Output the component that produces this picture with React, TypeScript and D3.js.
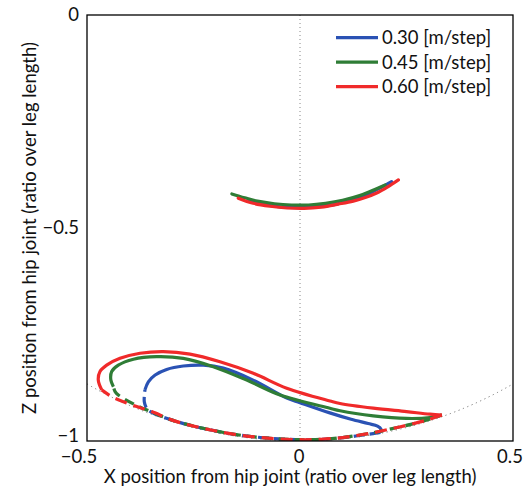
import React from "react";
import * as d3 from "d3";

const seriesNames = ["0.30 [m/step]", "0.45 [m/step]", "0.60 [m/step]"];
const seriesColors = ["#2a52b4", "#2f7d36", "#f02a2a"];

const xTicks = [-0.5, 0, 0.5];
const yTicks = [0, -0.5, -1];
const xTickLabels = ["\u22120.5", "0", "0.5"];
const yTickLabels = ["0", "\u22120.5", "\u22121"];

// swing phase (solid), [X, Z]
const swing030: [number, number][] = [
  [-0.364, -0.88], [-0.356, -0.861], [-0.34, -0.845], [-0.313, -0.832], [-0.274, -0.824],
  [-0.227, -0.822], [-0.18, -0.829], [-0.11, -0.857], [-0.031, -0.899], [0.0, -0.91],
  [0.07, -0.934], [0.12, -0.949], [0.16, -0.959], [0.182, -0.965], [0.19, -0.972], [0.189, -0.98],
];
const swing045: [number, number][] = [
  [-0.438, -0.8725], [-0.444, -0.857], [-0.442, -0.837], [-0.4265, -0.822], [-0.391, -0.808],
  [-0.3365, -0.802], [-0.274, -0.806], [-0.2035, -0.8255], [-0.125, -0.857], [-0.047, -0.892],
  [0.07, -0.923], [0.094, -0.929], [0.172, -0.941], [0.25, -0.947], [0.305, -0.945], [0.333, -0.939],
];
const swing060: [number, number][] = [
  [-0.4655, -0.88], [-0.4735, -0.857], [-0.4695, -0.837], [-0.4538, -0.822], [-0.4225, -0.806],
  [-0.3756, -0.794], [-0.3209, -0.79], [-0.2582, -0.796], [-0.1878, -0.814], [-0.1096, -0.841],
  [-0.0312, -0.876], [0.0704, -0.906], [0.094, -0.912], [0.172, -0.923], [0.25, -0.931],
  [0.305, -0.937], [0.333, -0.939],
];

// stance phase (dashed), [X, Z]
const stance030: [number, number][] = [
  [0.189, -0.98], [0.14, -0.987], [0.1, -0.992], [0.05, -0.996], [0.0, -0.997], [-0.05, -0.995],
  [-0.1, -0.991], [-0.15, -0.985], [-0.2, -0.976], [-0.25, -0.965], [-0.3, -0.951],
  [-0.348, -0.933], [-0.36, -0.923], [-0.3655, -0.908], [-0.364, -0.88],
];
const stance045: [number, number][] = [
  [0.333, -0.939], [0.3, -0.95], [0.26, -0.961], [0.22, -0.97], [0.18, -0.979], [0.14, -0.986],
  [0.1, -0.992], [0.05, -0.996], [0.0, -0.997], [-0.05, -0.995], [-0.1, -0.991], [-0.15, -0.985],
  [-0.2, -0.976], [-0.25, -0.965], [-0.3, -0.951], [-0.348, -0.932], [-0.387, -0.915],
  [-0.4265, -0.892], [-0.434, -0.884], [-0.438, -0.8725],
];
const stance060: [number, number][] = [
  [0.333, -0.939], [0.3, -0.95], [0.26, -0.961], [0.22, -0.97], [0.18, -0.979], [0.14, -0.986],
  [0.1, -0.992], [0.05, -0.996], [0.0, -0.997], [-0.05, -0.995], [-0.1, -0.991], [-0.15, -0.985],
  [-0.2, -0.976], [-0.25, -0.965], [-0.3, -0.951], [-0.348, -0.931], [-0.387, -0.918],
  [-0.4265, -0.903], [-0.442, -0.896], [-0.4655, -0.88],
];

// upper trajectories (solid), [X, Z]
const upper030: [number, number][] = [
  [-0.12, -0.437], [-0.08, -0.446], [-0.04, -0.451], [0.0, -0.452], [0.04, -0.45], [0.08, -0.445],
  [0.12, -0.435], [0.16, -0.42], [0.19, -0.405], [0.215, -0.391],
];
const upper045: [number, number][] = [
  [-0.16, -0.42], [-0.13, -0.429], [-0.1, -0.437], [-0.06, -0.443], [-0.02, -0.446], [0.02, -0.446],
  [0.06, -0.442], [0.1, -0.435], [0.14, -0.424], [0.17, -0.412], [0.2, -0.399],
];
const upper060: [number, number][] = [
  [-0.145, -0.43], [-0.11, -0.442], [-0.07, -0.449], [-0.03, -0.453], [0.01, -0.454], [0.05, -0.451],
  [0.09, -0.444], [0.125, -0.437], [0.155, -0.428], [0.18, -0.418], [0.205, -0.404], [0.231, -0.387],
];

const swings = [swing030, swing045, swing060];
const stances = [stance030, stance045, stance060];
const uppers = [upper030, upper045, upper060];

const W = 526;
const H = 491;
const FONT = "Lato, 'Open Sans', sans-serif";
const FS = 18.5;

export default function App() {
  const x = d3.scaleLinear().domain([-0.5, 0.5]).range([87, 513]);
  const y = d3.scaleLinear().domain([-1, 0]).range([441, 15]);
  const line = d3
    .line<[number, number]>()
    .x((d) => x(d[0]))
    .y((d) => y(d[1]))
    .curve(d3.curveCatmullRom.alpha(0.5));

  const r = x(1) - x(0);
  const zEdge = -Math.sqrt(1 - 0.25);
  const arcPath = `M${x(-0.5)},${y(zEdge)} A${r},${y(-1) - y(0)} 0 0 0 ${x(0.5)},${y(zEdge)}`;

  return (
    <svg
      width={W}
      height={H}
      style={{ position: "absolute", left: 0, top: 0, background: "#fff" }}
      fontFamily={FONT}
    >
      <defs>
        <clipPath id="plotclip">
          <rect x={x(-0.5)} y={y(0)} width={x(0.5) - x(-0.5)} height={y(-1) - y(0)} />
        </clipPath>
      </defs>
      <g clipPath="url(#plotclip)">
        <line x1={x(0)} x2={x(0)} y1={y(0)} y2={y(-1)} stroke="#888" strokeWidth={1} strokeDasharray="1,3" />
        <path d={arcPath} fill="none" stroke="#777" strokeWidth={1} strokeDasharray="1.2,3.5" />
        {[0, 1, 2].map((i) => (
          <g key={i}>
            <path d={line(uppers[i]) || ""} fill="none" stroke={seriesColors[i]} strokeWidth={3.2} strokeLinecap="round" />
            <path d={line(swings[i]) || ""} fill="none" stroke={seriesColors[i]} strokeWidth={3.2} strokeLinecap="butt" />
            <path
              d={line(stances[i]) || ""}
              fill="none"
              stroke={seriesColors[i]}
              strokeWidth={3.2}
              strokeDasharray={i === 0 ? "11,5" : i === 1 ? "10,6" : "12,7"}
              strokeDashoffset={i === 1 ? 4 : 0}
            />
          </g>
        ))}
      </g>
      <rect
        x={x(-0.5)}
        y={y(0)}
        width={x(0.5) - x(-0.5)}
        height={y(-1) - y(0)}
        fill="none"
        stroke="#000"
        strokeWidth={1.3}
      />
      {xTicks.map((t, i) => (
        <text
          key={"xt" + i}
          x={x(t) + (i === 0 ? -8 : i === 2 ? -3 : -1)}
          y={463}
          textAnchor="middle"
          fontSize={FS}
          fill="#111"
        >
          {xTickLabels[i]}
        </text>
      ))}
      {yTicks.map((t, i) => (
        <text key={"yt" + i} x={79} y={y(t) + (i === 2 ? 1 : 6)} textAnchor="end" fontSize={FS} fill="#111">
          {yTickLabels[i]}
        </text>
      ))}
      <text x={290} y={483} textAnchor="middle" fontSize={FS} fill="#111">
        X position from hip joint (ratio over leg length)
      </text>
      <text
        transform={`translate(36,${(y(0) + y(-1)) / 2}) rotate(-90)`}
        textAnchor="middle"
        fontSize={FS}
        fill="#111"
      >
        Z position from hip joint (ratio over leg length)
      </text>
      {seriesNames.map((n, i) => (
        <g key={"lg" + i}>
          <line x1={336} x2={378} y1={37.7 + i * 24.5} y2={37.7 + i * 24.5} stroke={seriesColors[i]} strokeWidth={3.2} />
          <text x={382} y={44 + i * 24.5} fontSize={FS} fill="#111">
            {n}
          </text>
        </g>
      ))}
    </svg>
  );
}
